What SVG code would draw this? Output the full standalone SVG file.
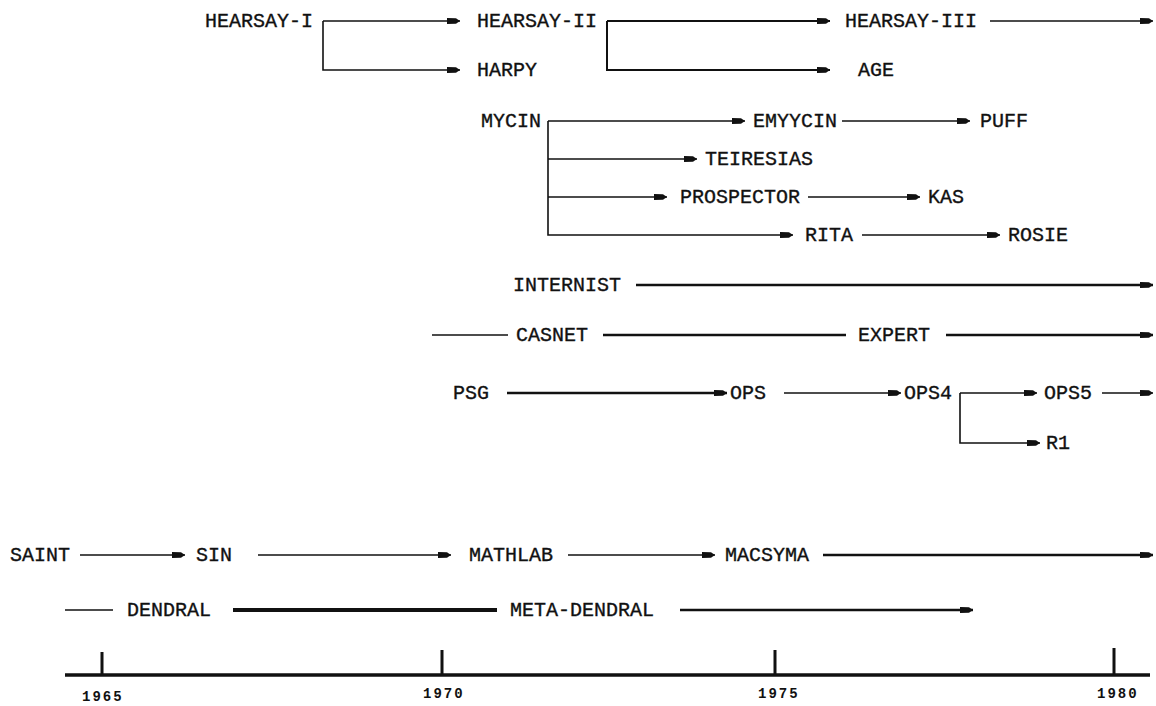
<svg xmlns="http://www.w3.org/2000/svg" width="1156" height="706" viewBox="0 0 1156 706">
<defs>
<style>
text{font-family:"Liberation Mono","DejaVu Sans Mono",monospace;font-size:20px;fill:#111;stroke:#111;stroke-width:0.35}
.yr{font-size:14px;font-weight:bold;letter-spacing:2px;stroke:none}
.c{fill:none;stroke:#111;stroke-width:1.6}
.m{stroke-width:2}
.t{stroke-width:2.6}
.tt{stroke-width:4}
.a{marker-end:url(#ah)}
.ax{fill:none;stroke:#111;stroke-width:3.5}
.tk{fill:none;stroke:#111;stroke-width:3}
</style>
<marker id="ah" markerUnits="userSpaceOnUse" markerWidth="14" markerHeight="8" refX="13" refY="4" orient="auto">
<path d="M0,1 L9,1.3 L13,4 L9,6.7 L0,7 z" fill="#111"/>
</marker>
</defs>
<rect width="1156" height="706" fill="#fff"/>
<g id="connectors">
<path class="c a" d="M323,21 H460"/>
<path class="c a" d="M323,21 V70 H460"/>
<path class="c m a" d="M607,21 H830"/>
<path class="c m a" d="M607,21 V70 H830"/>
<path class="c a" d="M990,21 H1153"/>
<path class="c a" d="M548,121 H745"/>
<path class="c a" d="M548,121 V235 H793"/>
<path class="c a" d="M548,159 H697"/>
<path class="c a" d="M548,197 H667"/>
<path class="c a" d="M842,121 H970"/>
<path class="c a" d="M808,197 H920"/>
<path class="c a" d="M862,235 H1000"/>
<path class="c t a" d="M636,285 H1153"/>
<path class="c" d="M432,335 H508"/>
<path class="c t" d="M603,335 H846"/>
<path class="c t a" d="M946,335 H1153"/>
<path class="c t a" d="M507,393 H727"/>
<path class="c a" d="M784,393 H901"/>
<path class="c a" d="M960,393 H1037"/>
<path class="c a" d="M960,393 V443 H1040"/>
<path class="c a" d="M1102,393 H1153"/>
<path class="c a" d="M80,555 H185"/>
<path class="c a" d="M258,555 H451"/>
<path class="c a" d="M568,555 H715"/>
<path class="c t a" d="M823,555 H1153"/>
<path class="c" d="M65,610 H113"/>
<path class="c tt" d="M233,610 H497"/>
<path class="c t a" d="M680,610 H973"/>
</g>
<g id="axis">
<path class="ax" d="M65,675 H1150"/>
<path class="tk" d="M102,652 V675 M442,650 V675 M775,650 V675 M1114,648 V675"/>
<text class="yr" x="82" y="701">1965</text>
<text class="yr" x="423" y="698">1970</text>
<text class="yr" x="758" y="698">1975</text>
<text class="yr" x="1097" y="698">1980</text>
</g>
<g id="hearsay1"><text x="205" y="27">HEARSAY-I</text></g>
<g id="hearsay2"><text x="477" y="27">HEARSAY-II</text></g>
<g id="hearsay3"><text x="845" y="27">HEARSAY-III</text></g>
<g id="harpy"><text x="477" y="76">HARPY</text></g>
<g id="age"><text x="858" y="76">AGE</text></g>
<g id="mycin"><text x="481" y="127">MYCIN</text></g>
<g id="emyycin"><text x="753" y="127">EMYYCIN</text></g>
<g id="puff"><text x="980" y="127">PUFF</text></g>
<g id="teiresias"><text x="705" y="165">TEIRESIAS</text></g>
<g id="prospector"><text x="680" y="203">PROSPECTOR</text></g>
<g id="kas"><text x="928" y="203">KAS</text></g>
<g id="rita"><text x="805" y="241">RITA</text></g>
<g id="rosie"><text x="1008" y="241">ROSIE</text></g>
<g id="internist"><text x="513" y="291">INTERNIST</text></g>
<g id="casnet"><text x="516" y="341">CASNET</text></g>
<g id="expert"><text x="858" y="341">EXPERT</text></g>
<g id="psg"><text x="453" y="399">PSG</text></g>
<g id="ops"><text x="730" y="399">OPS</text></g>
<g id="ops4"><text x="904" y="399">OPS4</text></g>
<g id="ops5"><text x="1044" y="399">OPS5</text></g>
<g id="r1"><text x="1046" y="449">R1</text></g>
<g id="saint"><text x="10" y="561">SAINT</text></g>
<g id="sin"><text x="196" y="561">SIN</text></g>
<g id="mathlab"><text x="469" y="561">MATHLAB</text></g>
<g id="macsyma"><text x="725" y="561">MACSYMA</text></g>
<g id="dendral"><text x="127" y="616">DENDRAL</text></g>
<g id="metadendral"><text x="510" y="616">META-DENDRAL</text></g>
</svg>
